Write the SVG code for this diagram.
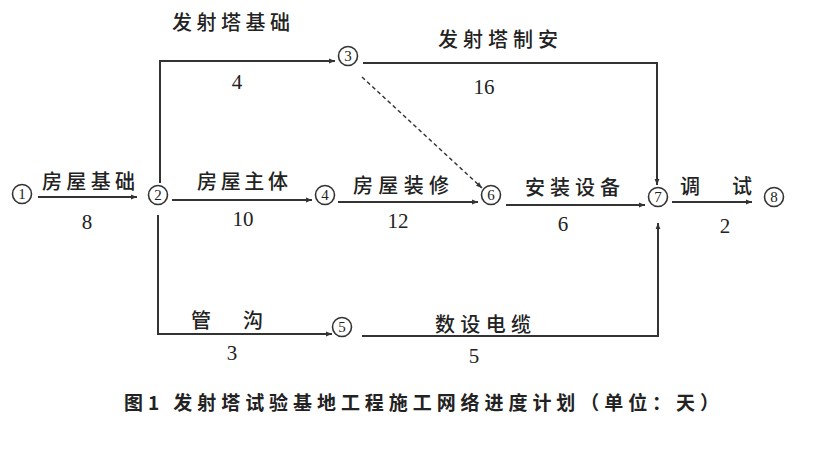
<svg xmlns="http://www.w3.org/2000/svg" width="822" height="461" viewBox="0 0 822 461">
<defs>
<marker id="ah" viewBox="0 0 10 10" refX="10" refY="5" markerWidth="7" markerHeight="6" markerUnits="userSpaceOnUse" orient="auto">
<path d="M0,1 L10,5 L0,9 Z" fill="#333"/>
</marker>
<style>
.c{fill:#fff;stroke:#333;stroke-width:1.6}
.n{font-family:"Liberation Serif",serif;font-size:15px;fill:#222;text-anchor:middle}
.cn{font-family:"Noto Sans CJK SC",sans-serif;font-size:20px;font-weight:500;fill:#222}
.num{font-family:"Liberation Serif",serif;font-size:21px;fill:#222;text-anchor:middle}
.e{fill:none;stroke:#333;stroke-width:2}
.d{fill:none;stroke:#333;stroke-width:1.5;stroke-dasharray:4 3}
.cap{font-family:"Noto Sans CJK SC",sans-serif;font-size:19px;font-weight:700;fill:#222}
</style>
</defs>
<rect width="822" height="461" fill="#fff"/>
<g id="connectors">
<path class="e" d="M38 197 H137" marker-end="url(#ah)"/>
<path class="e" d="M172 200 H312" marker-end="url(#ah)"/>
<path class="e" d="M338 202 H478" marker-end="url(#ah)"/>
<path class="e" d="M506 205 H645" marker-end="url(#ah)"/>
<path class="e" d="M672 202 H752" marker-end="url(#ah)"/>
<path class="e" d="M160 183 V61 H335" marker-end="url(#ah)"/>
<path class="e" d="M363 63 H657 V185" marker-end="url(#ah)"/>
<path class="d" d="M362 77 L482 188" marker-end="url(#ah)"/>
<path class="e" d="M158 215 V334 H332" marker-end="url(#ah)"/>
<path class="e" d="M362 336 H658 V223" marker-end="url(#ah)"/>
</g>
<g id="labels">
<text class="cn" x="172" y="30" textLength="118" lengthAdjust="spacing">发射塔基础</text>
<text class="num" x="237" y="89">4</text>
<text class="cn" x="438" y="47" textLength="120" lengthAdjust="spacing">发射塔制安</text>
<text class="num" x="484" y="94">16</text>
<text class="cn" x="42" y="189" textLength="93" lengthAdjust="spacing">房屋基础</text>
<text class="num" x="87" y="229">8</text>
<text class="cn" x="197" y="189" textLength="91" lengthAdjust="spacing">房屋主体</text>
<text class="num" x="243" y="226">10</text>
<text class="cn" x="353" y="193" textLength="96" lengthAdjust="spacing">房屋装修</text>
<text class="num" x="398" y="228">12</text>
<text class="cn" x="525" y="195" textLength="95" lengthAdjust="spacing">安装设备</text>
<text class="num" x="563" y="231">6</text>
<text class="cn" x="680" y="194" textLength="72" lengthAdjust="spacing">调 试</text>
<text class="num" x="725" y="233">2</text>
<text class="cn" x="191" y="328" textLength="72" lengthAdjust="spacing">管 沟</text>
<text class="num" x="232" y="360">3</text>
<text class="cn" x="435" y="332" textLength="96" lengthAdjust="spacing">数设电缆</text>
<text class="num" x="474" y="363">5</text>
</g>
<g id="node1"><circle class="c" cx="22" cy="194" r="9.5"/><text class="n" x="22" y="199">1</text></g>
<g id="node2"><circle class="c" cx="158" cy="195" r="9.5"/><text class="n" x="158" y="200">2</text></g>
<g id="node3"><circle class="c" cx="348" cy="56" r="9.5"/><text class="n" x="348" y="61">3</text></g>
<g id="node4"><circle class="c" cx="325" cy="195" r="9.5"/><text class="n" x="325" y="200">4</text></g>
<g id="node5"><circle class="c" cx="342" cy="327" r="9.5"/><text class="n" x="342" y="332">5</text></g>
<g id="node6"><circle class="c" cx="491" cy="195" r="9.5"/><text class="n" x="491" y="200">6</text></g>
<g id="node7"><circle class="c" cx="658" cy="197" r="9.5"/><text class="n" x="658" y="202">7</text></g>
<g id="node8"><circle class="c" cx="774" cy="197" r="9.5"/><text class="n" x="774" y="202">8</text></g>
<text class="cap" x="124" y="410" textLength="595" lengthAdjust="spacing">图1 发射塔试验基地工程施工网络进度计划（单位：天）</text>
</svg>
